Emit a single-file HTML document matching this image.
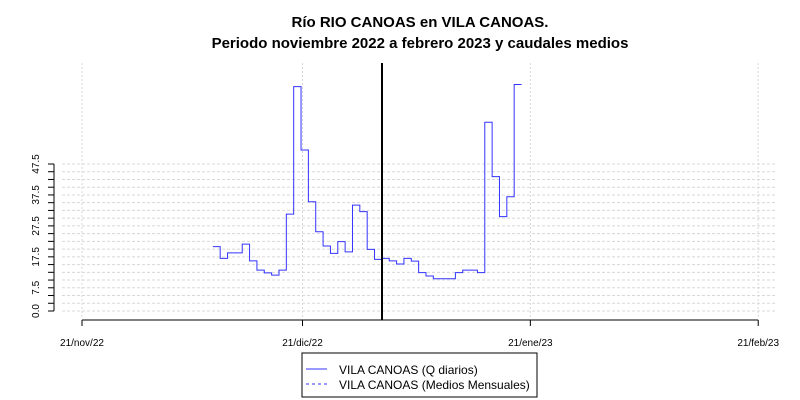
<!DOCTYPE html>
<html><head><meta charset="utf-8"><style>
body{margin:0;background:#fff}
svg{display:block;font-family:"Liberation Sans",sans-serif}
</style></head><body>
<svg id="chart" width="800" height="400" xmlns="http://www.w3.org/2000/svg">
<rect width="800" height="400" fill="#fff"/>
<text x="420" y="27" text-anchor="middle" font-size="15" font-weight="bold">Río RIO CANOAS en VILA CANOAS.</text>
<text x="420" y="48" text-anchor="middle" font-size="15" font-weight="bold">Periodo noviembre 2022 a febrero 2023 y caudales medios</text>
<g id="grid"></g><g id="axes"></g><g id="series"></g>
<line x1="382" y1="63" x2="382" y2="320" stroke="#000" stroke-width="2"/>
<g>
<rect x="302" y="353" width="235" height="44" fill="#fff" stroke="#000" stroke-width="1"/>
<line x1="306" y1="369" x2="327" y2="369" stroke="#3333ff"/>
<text x="339" y="374" font-size="12">VILA CANOAS (Q diarios)</text>
<line x1="306" y1="384" x2="327" y2="384" stroke="#3333ff" stroke-dasharray="3,3"/>
<text x="339" y="389" font-size="12">VILA CANOAS (Medios Mensuales)</text>
</g>
</svg>
<script>
const dateTickLabels=["21/nov/22","21/dic/22","21/ene/23","21/feb/23"];
const dateTickDays=[0,30,61,92];
const yTicks=[0,2.5,5,7.5,10,12.5,15,17.5,20,22.5,25,27.5,30,32.5,35,37.5,40,42.5,45,47.5];
const yLabels=["0.0","7.5","17.5","27.5","37.5","47.5"];
const startDay=17.8;
const dailyQ=[20.8,17.0,18.8,18.8,21.6,16.2,13.2,12.3,11.6,13.2,31.3,72.5,52.0,35.3,25.6,21.0,18.6,22.4,19.1,34.2,32.1,19.9,16.7,17.0,16.2,15.2,17.0,16.1,12.4,11.3,10.4,10.4,10.4,12.4,13.2,13.2,12.4,61.0,43.4,30.5,36.9,73.2];
const NS="http://www.w3.org/2000/svg";
const xs=d=>82+d*7.35;
const ys=v=>311-v*3.095;
function mk(t,a,p){const e=document.createElementNS(NS,t);for(const k in a)e.setAttribute(k,a[k]);p.appendChild(e);return e;}
const grid=document.getElementById('grid'),axes=document.getElementById('axes'),ser=document.getElementById('series');
yTicks.forEach(v=>{
 const g=mk('line',{x1:62,x2:777,y1:ys(v),y2:ys(v),stroke:'#d8d8d8','stroke-dasharray':'3,2'},grid);
 
 
 const t=mk('line',{x1:48,x2:54,y1:ys(v),y2:ys(v),stroke:'#000'},axes);
 
 
 const lab=v.toFixed(1);
 if(yLabels.includes(lab)){
  const tx=mk('text',{x:0,y:0,'font-size':10,'text-anchor':'middle',transform:`translate(39,${ys(v)}) rotate(-90)`},axes);
  tx.textContent=lab;
  
  
 }
});
const ya=mk('line',{x1:54,x2:54,y1:ys(0),y2:ys(47.5),stroke:'#000'},axes);


dateTickDays.forEach((d,i)=>{
 const g=mk('line',{x1:xs(d),x2:xs(d),y1:63,y2:318,stroke:'#d8d8d8','stroke-dasharray':'2,2'},grid);
 
 
 const t=mk('line',{x1:xs(d),x2:xs(d),y1:320,y2:326,stroke:'#000'},axes);
 
 
 const tx=mk('text',{x:xs(d),y:346,'font-size':10,'text-anchor':'middle'},axes);
 tx.textContent=dateTickLabels[i];
 
 
});
const xa=mk('line',{x1:xs(0),x2:xs(92),y1:320,y2:320,stroke:'#000'},axes);


let p='';
dailyQ.forEach((v,i)=>{const x0=xs(startDay+i),x1=xs(startDay+i+1);p+=(i?'L':'M')+x0+','+ys(v)+'L'+x1+','+ys(v);});
const path=mk('path',{d:p,fill:'none',stroke:'#3333ff','stroke-width':1},ser);


</script>
</body></html>
